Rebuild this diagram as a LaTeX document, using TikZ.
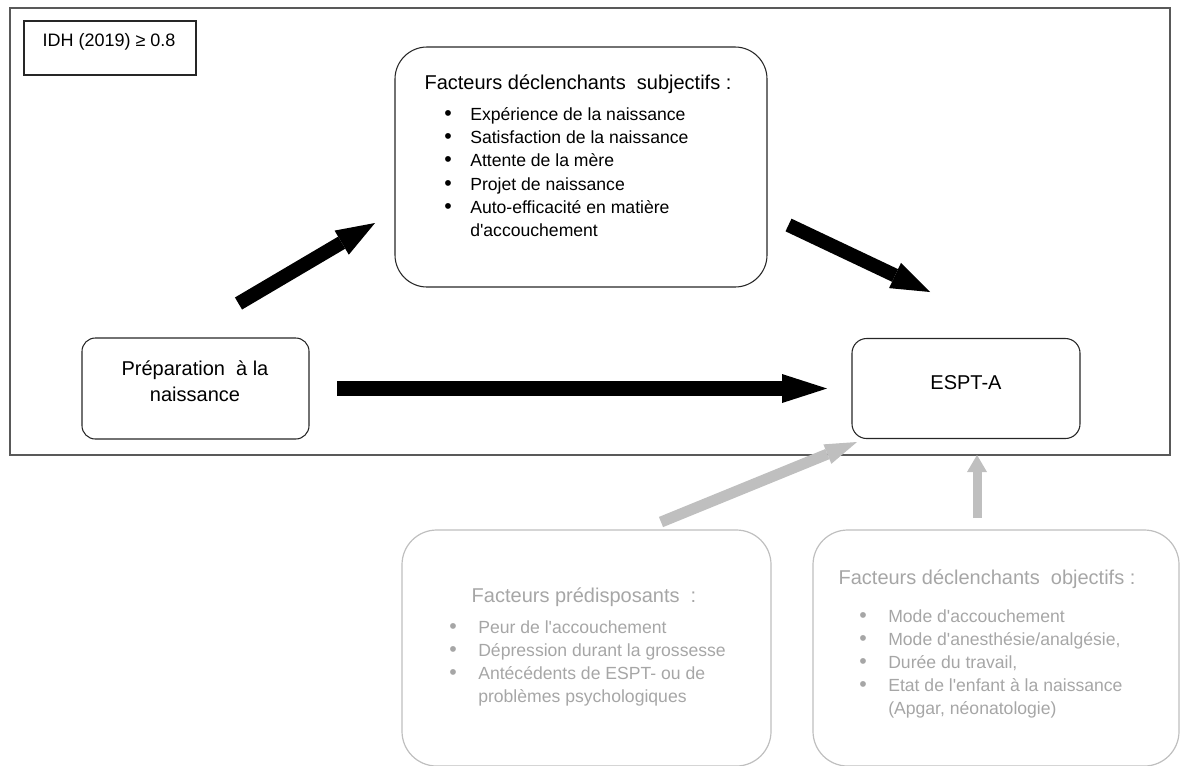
\documentclass[tikz,border=0pt]{standalone}
\usepackage{fontspec}
\setmainfont{Liberation Sans}[Ligatures=TeXOff]
\usetikzlibrary{arrows.meta}
\definecolor{frameline}{HTML}{595959}
\definecolor{lgray}{HTML}{BFBFBF}
\definecolor{tgray}{HTML}{A6A6A6}
\begin{document}
\begin{tikzpicture}[x=0.75pt,y=-0.75pt,
  box/.style={draw=black!85, line width=0.8pt, inner sep=0pt, outer sep=0pt},
  gbox/.style={draw=lgray, line width=0.9pt, inner sep=0pt, outer sep=0pt},
  ttl/.style={inner sep=0pt, anchor=base, font=\fontsize{15}{18}\selectfont},
  itm/.style={inner sep=0pt, anchor=base west, font=\fontsize{13.2}{17}\selectfont},
  blt/.style={inner sep=0pt, anchor=base, font=\fontsize{16}{17}\selectfont},
  bigarrow/.style={line width=11.25pt, draw=black, -{Triangle[length=33.75pt,width=21.75pt,line width=0pt]}},
  diagarrow/.style={line width=10.5pt, draw=black, -{Triangle[length=29pt,width=21pt,line width=0pt]}},
  grayarrow/.style={line width=8.25pt, draw=lgray, -{Triangle[length=24pt,width=15.75pt,line width=0pt]}},
  vgrayarrow/.style={line width=6.75pt, draw=lgray, -{Triangle[length=12.75pt,width=15pt,line width=0pt]}}
]
\useasboundingbox (0,0) rectangle (1180,765);

% outer frame
\node[draw=frameline, line width=1.1pt, inner sep=0pt, minimum width=870pt, minimum height=335.25pt] (frame) at (590,231.5) {};

% IDH box
\node[box, minimum width=129pt, minimum height=40.5pt] (idh) at (110,48) {};
\node[inner sep=0pt, anchor=base, font=\fontsize{13.5}{16}\selectfont] (idht) at (109,46) {IDH (2019) ≥ 0.8};

% subjective factors box
\node[box, rounded corners=24pt, minimum width=279pt, minimum height=180pt] (subj) at (581,167) {};
\node[ttl] (subjt) at (578,89) {Facteurs déclenchants\ \ subjectifs\ :};
\node[blt] (sb1) at (448,120) {•};
\node[itm] (s1) at (470,120) {Expérience de la naissance};
\node[blt] (sb2) at (448,143.3) {•};
\node[itm] (s2) at (470,143.3) {Satisfaction de la naissance};
\node[blt] (sb3) at (448,166.6) {•};
\node[itm] (s3) at (470,166.6) {Attente de la mère};
\node[blt] (sb4) at (448,190) {•};
\node[itm] (s4) at (470,190) {Projet de naissance};
\node[blt] (sb5) at (448,213.3) {•};
\node[itm] (s5) at (470,213.3) {Auto-efficacité en matière};
\node[itm] (s6) at (470,236.6) {d'accouchement};

% preparation box
\node[box, rounded corners=10pt, minimum width=170.25pt, minimum height=75.75pt] (prep) at (195.5,388.5) {};
\node[ttl] (prept1) at (195,375) {Préparation\ \ à la};
\node[ttl] (prept2) at (195,401) {naissance};

% ESPT-A box
\node[box, rounded corners=11pt, minimum width=171pt, minimum height=75pt] (espt) at (966,388.5) {};
\node[ttl] (esptt) at (966,389) {ESPT-A};

% predisposing factors box
\node[gbox, rounded corners=26pt, minimum width=276.75pt, minimum height=177pt] (pred) at (586.5,648) {};
\node[ttl, text=tgray] (predt) at (584,602) {Facteurs prédisposants\ \ :};
\node[blt, text=tgray] (pb1) at (453,633) {•};
\node[itm, text=tgray] (p1) at (478,633) {Peur de l'accouchement};
\node[blt, text=tgray] (pb2) at (453,656) {•};
\node[itm, text=tgray] (p2) at (478,656) {Dépression durant la grossesse};
\node[blt, text=tgray] (pb3) at (453,679) {•};
\node[itm, text=tgray] (p3) at (478,679) {Antécédents de ESPT- ou de};
\node[itm, text=tgray] (p4) at (478,702) {problèmes psychologiques};

% objective factors box
\node[gbox, rounded corners=26pt, minimum width=274.5pt, minimum height=177pt] (obj) at (996,648) {};
\node[ttl, text=tgray] (objt) at (987,584) {Facteurs déclenchants\ \ objectifs\ :};
\node[blt, text=tgray] (ob1) at (863,622) {•};
\node[itm, text=tgray] (o1) at (888,622) {Mode d'accouchement};
\node[blt, text=tgray] (ob2) at (863,645) {•};
\node[itm, text=tgray] (o2) at (888,645) {Mode d'anesthésie/analgésie,};
\node[blt, text=tgray] (ob3) at (863,668) {•};
\node[itm, text=tgray] (o3) at (888,668) {Durée du travail,};
\node[blt, text=tgray] (ob4) at (863,691) {•};
\node[itm, text=tgray] (o4) at (888,691) {Etat de l'enfant à la naissance};
\node[itm, text=tgray] (o5) at (888,714) {(Apgar, néonatologie)};

% arrow end points
\coordinate (a1s) at (238.5,303.5);
\coordinate (a1e) at (375,223);
\coordinate (a2s) at (788.5,225);
\coordinate (a2e) at (930,292);
\coordinate (g1s) at (661,522);
\coordinate (g1e) at (857,442);
\coordinate (g2s) at (977,518);
\coordinate (g2e) at (977,455);

% connectors
\draw[diagarrow] (a1s) -- (a1e);
\draw[diagarrow] (a2s) -- (a2e);
\draw[bigarrow, shorten <=21pt, shorten >=18.75pt] (prep.east) -- (espt.west);
\draw[grayarrow] (g1s) -- (g1e);
\draw[vgrayarrow] (g2s) -- (g2e);
\end{tikzpicture}
\end{document}
